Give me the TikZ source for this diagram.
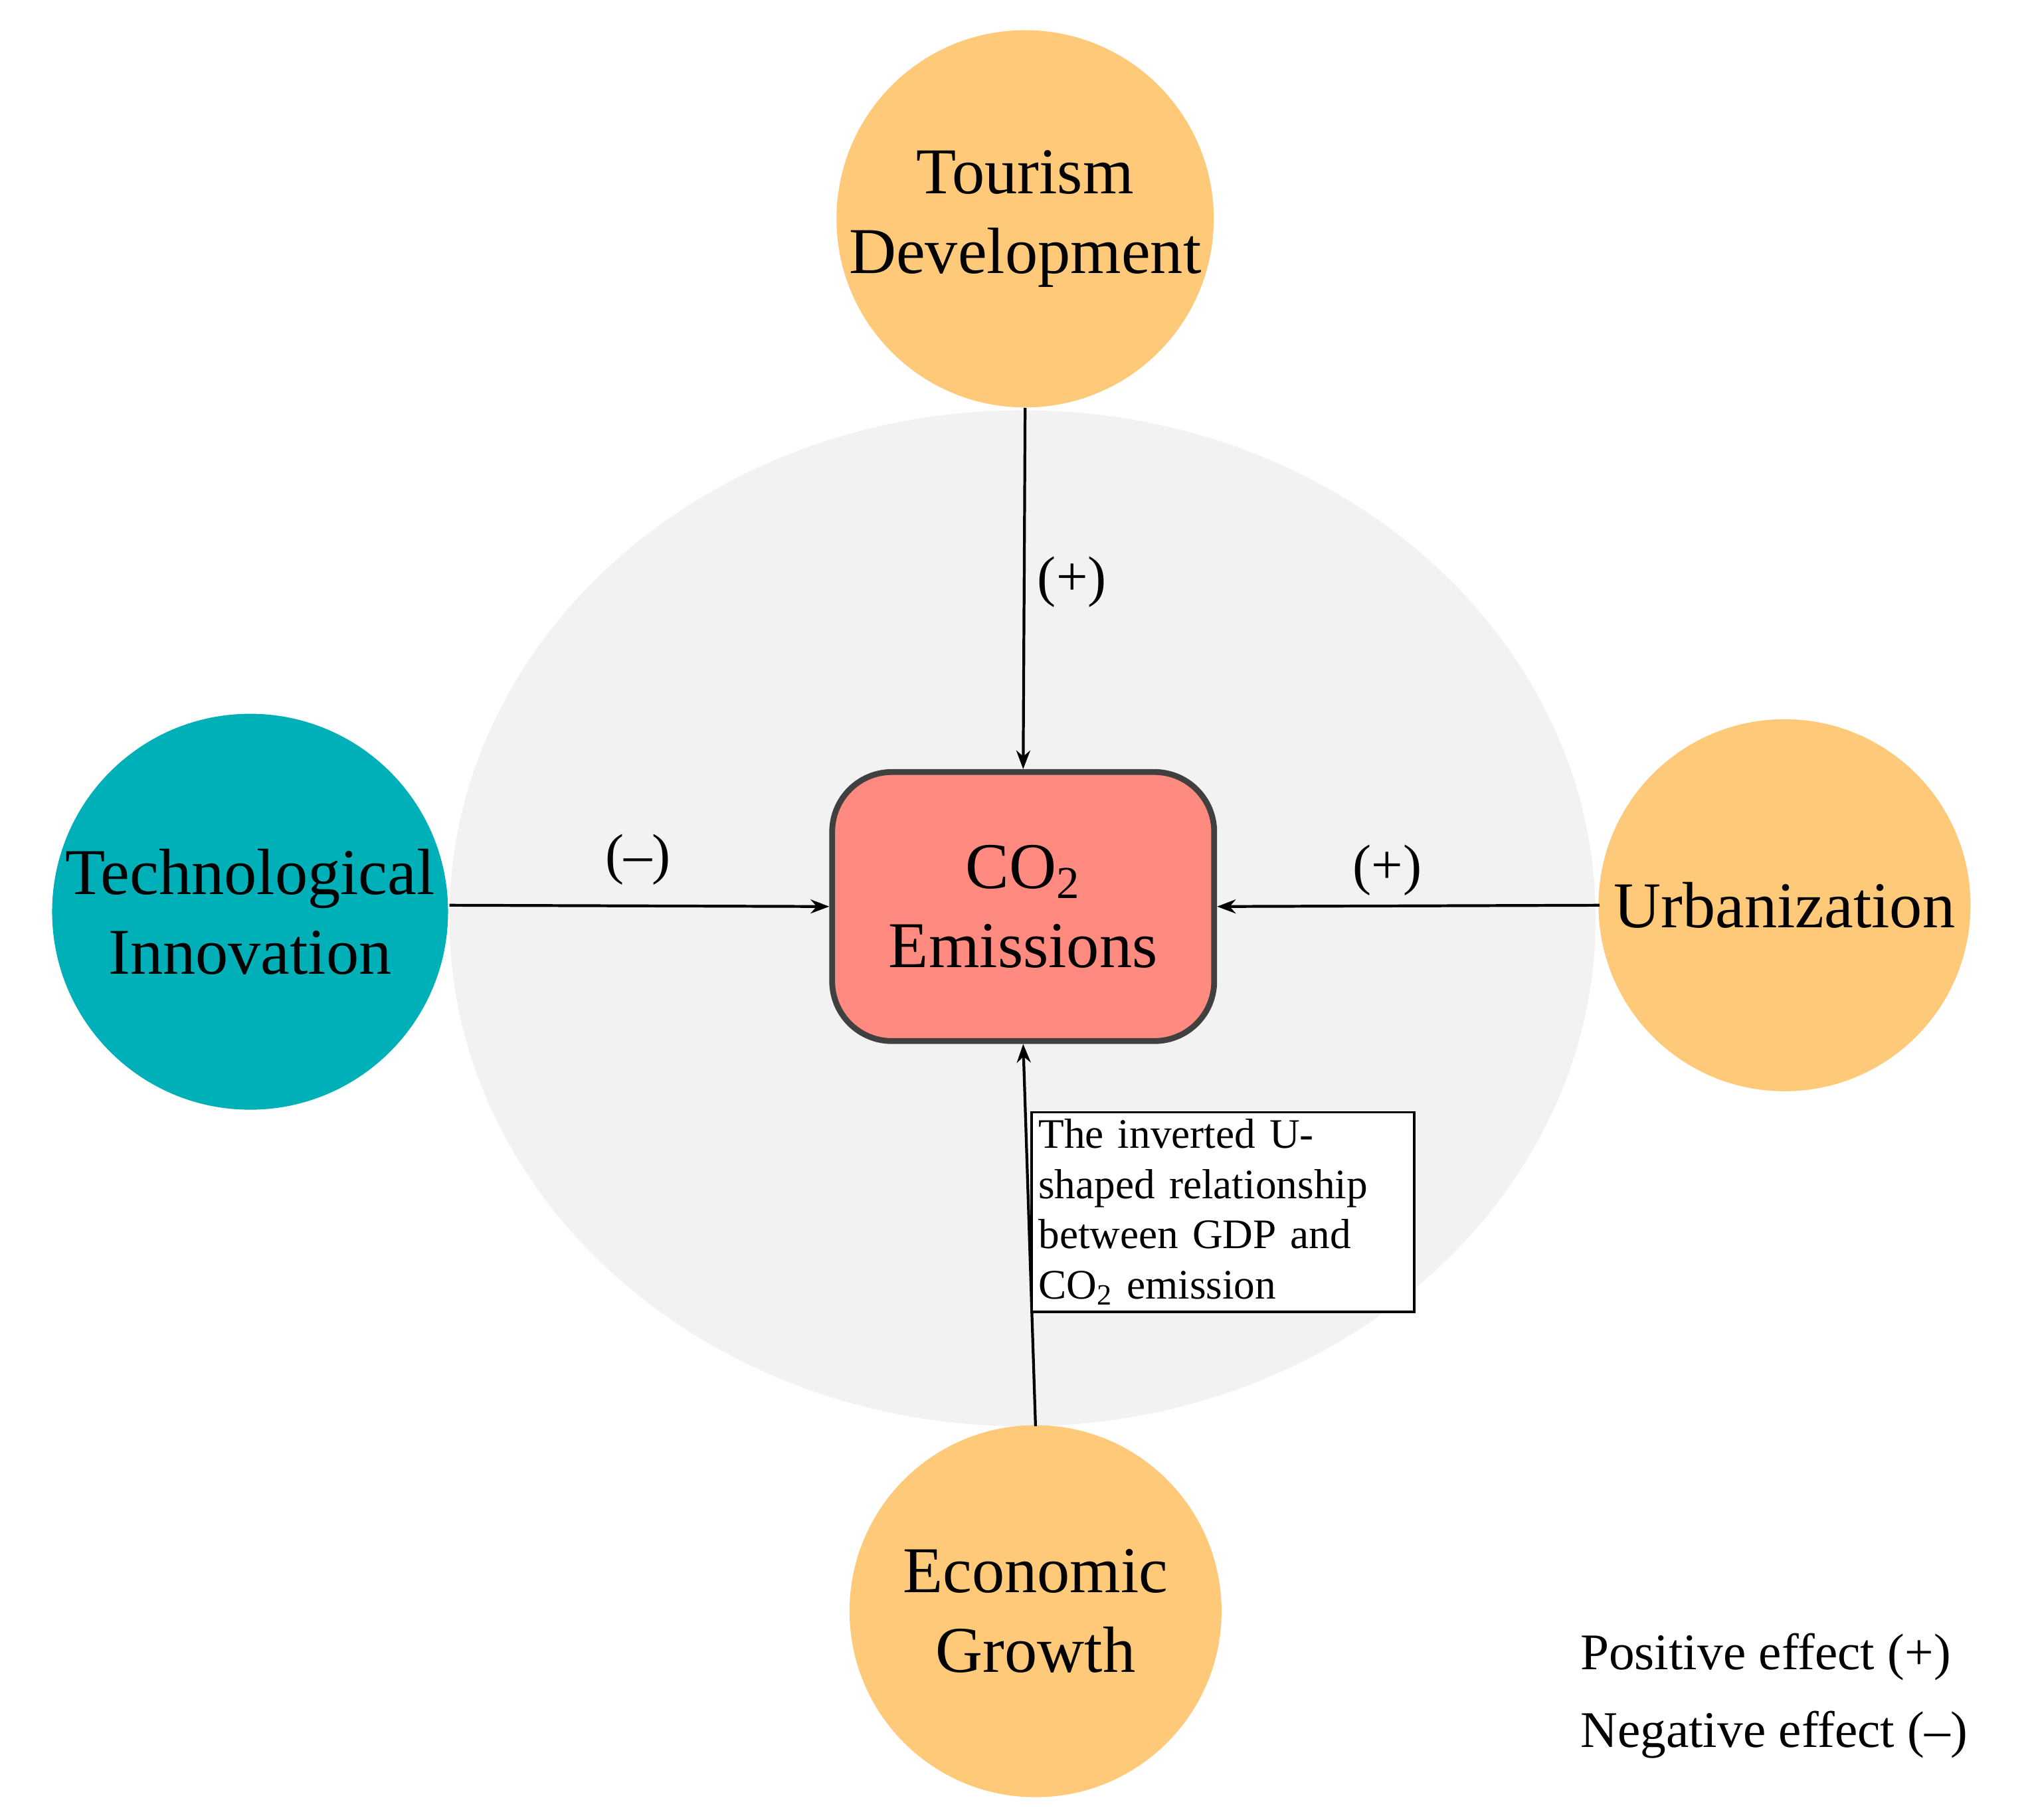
\documentclass[tikz,border=0pt]{standalone}
\usepackage{fontspec}
\setmainfont{Liberation Serif}
\usetikzlibrary{arrows.meta}
\definecolor{orng}{HTML}{FFC97A}
\definecolor{teal2}{HTML}{00B0B8}
\definecolor{salmon}{HTML}{FF8A80}
\definecolor{bg}{HTML}{F2F2F2}
\begin{document}
\begin{tikzpicture}[x=0.01961cm,y=-0.01961cm,
  circ/.style={circle,minimum size=286\pgflinewidth*0+11.2cm,inner sep=0,align=center,font=\fontsize{28}{34}\selectfont},
  arr/.style={-{Stealth[length=8pt,width=6pt]},line width=1.2pt},
  lab/.style={font=\fontsize{24}{28}\selectfont}]
\useasboundingbox (0,0) rectangle (1560,1397);
\fill[bg] (785,705) ellipse [x radius=440, y radius=390];
\node[circ,fill=orng,minimum size=5.6cm] (tour) at (787,168) {Tourism\\Development};
\node[circ,fill=teal2,minimum size=5.96cm] (tech) at (192,700) {Technological\\Innovation};
\node[circ,fill=orng,minimum size=5.6cm] (urb) at (1370,695) {Urbanization};
\node[circ,fill=orng,minimum size=5.6cm] (eco) at (795,1237) {Economic\\Growth};
\node[draw=black!75,line width=2.5pt,fill=salmon,rounded corners=0.9cm,minimum width=5.75cm,minimum height=4.05cm,align=center,font=\fontsize{28}{34}\selectfont] (co2) at (785.5,696) {CO\textsubscript{2}\\Emissions};
\coordinate (ecotop) at (795,1095);
\coordinate (urbl) at (1228,695);
\coordinate (techr) at (345,695);
\draw[arr] (tour.south) -- (co2.north);
\draw[arr] (techr) -- (co2.west);
\draw[arr] (urbl) -- (co2.east);
\draw[arr] (ecotop) -- (co2.south);
\node[lab] (l1) at (823,447) {(+)};
\node[lab] (l2) at (490,660) {(--)};
\node[lab] (l3) at (1065,668) {(+)};
\node[draw,line width=1pt,fill=white,anchor=north west,align=left,inner sep=3pt,text width=5.55cm,font=\fontsize{18}{21.5}\selectfont] (box) at (791,853) {The inverted U-\\shaped relationship\\between GDP and\\CO\textsubscript{2} emission};
\node[font=\fontsize{22}{26}\selectfont,anchor=west] (pos) at (1207,1272) {Positive effect (+)};
\node[font=\fontsize{22}{26}\selectfont,anchor=west] (neg) at (1207,1332) {Negative effect (--)};
\end{tikzpicture}
\end{document}
